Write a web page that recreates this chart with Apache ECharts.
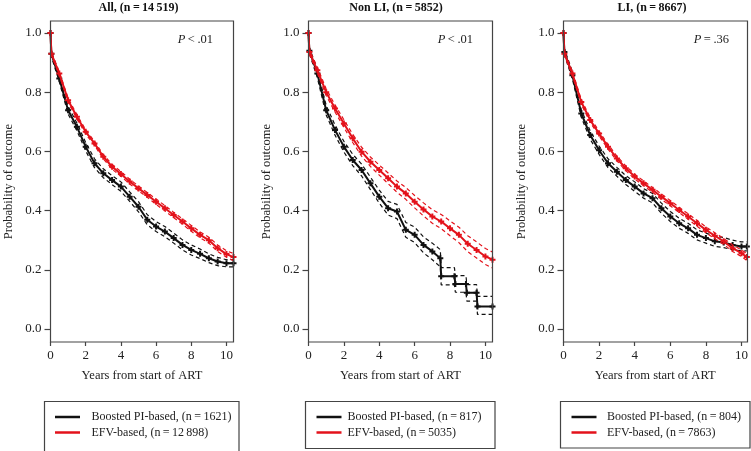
<!DOCTYPE html>
<html><head><meta charset="utf-8">
<script src="https://cdn.jsdelivr.net/npm/echarts@6/dist/echarts.min.js"></script>
<style>html,body{margin:0;padding:0;background:#fff}#c{width:751px;height:451px}</style>
</head><body><div id="c"></div>
<script>
// ---------- DATA ----------
const xTicks = [0, 2, 4, 6, 8, 10];
const yTicks = [0, 0.2, 0.4, 0.6, 0.8, 1.0];
const panelTitles = ['All, (n\u2009=\u200914\u2009519)', 'Non LI, (n\u2009=\u20095852)', 'LI, (n\u2009=\u20098667)'];
const pRel = ['<', '<', '='];
const pVal = ['.01', '.01', '.36'];
const blackNames = ['Boosted PI-based, (n\u2009=\u20091621)', 'Boosted PI-based, (n\u2009=\u2009817)', 'Boosted PI-based, (n\u2009=\u2009804)'];
const redNames = ['EFV-based, (n\u2009=\u200912\u2009898)', 'EFV-based, (n\u2009=\u20095035)', 'EFV-based, (n\u2009=\u20097863)'];

// Panel 1: All
const T1 = [0, 0.05, 0.5, 1, 1.5, 2, 2.5, 3, 3.5, 4, 4.5, 5, 5.5, 6, 6.5, 7, 7.5, 8, 8.5, 9, 9.5, 10, 10.4];
const red1   = [1.0, 0.93, 0.863, 0.773, 0.717, 0.666, 0.627, 0.582, 0.548, 0.524, 0.498, 0.475, 0.453, 0.43, 0.408, 0.385, 0.363, 0.34, 0.318, 0.30, 0.273, 0.253, 0.243];
const red1Hi = [1.0, 0.935, 0.869, 0.780, 0.724, 0.673, 0.634, 0.589, 0.556, 0.532, 0.506, 0.483, 0.461, 0.439, 0.417, 0.394, 0.372, 0.350, 0.328, 0.310, 0.284, 0.264, 0.255];
const red1Lo = [1.0, 0.925, 0.857, 0.766, 0.710, 0.659, 0.620, 0.575, 0.540, 0.516, 0.490, 0.467, 0.445, 0.421, 0.399, 0.376, 0.354, 0.330, 0.308, 0.290, 0.262, 0.242, 0.231];
const blk1   = [1.0, 0.93, 0.846, 0.739, 0.683, 0.616, 0.56, 0.526, 0.503, 0.481, 0.447, 0.413, 0.369, 0.346, 0.329, 0.307, 0.284, 0.267, 0.254, 0.239, 0.228, 0.222, 0.222];
const blk1Hi = [1.0, 0.94, 0.857, 0.752, 0.696, 0.630, 0.575, 0.541, 0.518, 0.497, 0.463, 0.430, 0.386, 0.363, 0.346, 0.324, 0.301, 0.284, 0.270, 0.254, 0.242, 0.234, 0.234];
const blk1Lo = [1.0, 0.92, 0.835, 0.726, 0.670, 0.602, 0.545, 0.511, 0.488, 0.465, 0.431, 0.396, 0.352, 0.329, 0.312, 0.290, 0.267, 0.250, 0.238, 0.224, 0.214, 0.210, 0.210];

// Panel 2: Non LI
const T2 = [0, 0.05, 0.5, 1, 1.5, 2, 2.5, 3, 3.5, 4, 4.5, 5, 5.5, 6, 6.5, 7, 7.5, 8, 8.5, 9, 9.5, 10, 10.4];
const red2   = [1.0, 0.936, 0.874, 0.80, 0.745, 0.694, 0.644, 0.599, 0.565, 0.537, 0.509, 0.481, 0.458, 0.43, 0.404, 0.38, 0.363, 0.34, 0.318, 0.288, 0.267, 0.245, 0.234];
const red2Hi = [1.0, 0.944, 0.884, 0.811, 0.757, 0.707, 0.658, 0.614, 0.581, 0.554, 0.527, 0.500, 0.478, 0.451, 0.426, 0.403, 0.387, 0.365, 0.344, 0.315, 0.294, 0.272, 0.260];
const red2Lo = [1.0, 0.928, 0.864, 0.789, 0.733, 0.681, 0.630, 0.584, 0.549, 0.520, 0.491, 0.462, 0.438, 0.409, 0.382, 0.357, 0.339, 0.315, 0.292, 0.261, 0.240, 0.218, 0.206];
const T2b = [0, 0.05, 0.5, 1, 1.5, 2, 2.5, 3, 3.5, 4, 4.5, 5, 5.5, 6, 6.5, 7, 7.45, 7.5, 8.25, 8.3, 8.9, 8.95, 9.5, 9.55, 10.4];
const blk2   = [1.0, 0.94, 0.863, 0.739, 0.672, 0.616, 0.571, 0.537, 0.492, 0.447, 0.408, 0.397, 0.335, 0.318, 0.284, 0.262, 0.239, 0.178, 0.178, 0.152, 0.152, 0.122, 0.122, 0.076, 0.076];
const blk2Hi = [1.0, 0.95, 0.877, 0.755, 0.689, 0.634, 0.590, 0.557, 0.513, 0.469, 0.431, 0.421, 0.360, 0.344, 0.311, 0.290, 0.268, 0.207, 0.207, 0.180, 0.180, 0.150, 0.150, 0.110, 0.110];
const blk2Lo = [1.0, 0.93, 0.849, 0.723, 0.655, 0.598, 0.552, 0.517, 0.471, 0.425, 0.385, 0.373, 0.310, 0.292, 0.257, 0.234, 0.210, 0.149, 0.149, 0.124, 0.124, 0.094, 0.094, 0.049, 0.049];

// Panel 3: LI
const T3 = [0, 0.05, 0.5, 1, 1.5, 2, 2.5, 3, 3.5, 4, 4.5, 5, 5.5, 6, 6.5, 7, 7.5, 8, 8.5, 9, 9.5, 10, 10.3];
const red3   = [1.0, 0.93, 0.863, 0.767, 0.706, 0.66, 0.616, 0.576, 0.543, 0.515, 0.492, 0.47, 0.447, 0.425, 0.402, 0.38, 0.357, 0.335, 0.315, 0.296, 0.273, 0.256, 0.243];
const red3Hi = [1.0, 0.936, 0.870, 0.775, 0.714, 0.668, 0.624, 0.584, 0.551, 0.523, 0.500, 0.478, 0.456, 0.434, 0.411, 0.389, 0.367, 0.345, 0.325, 0.306, 0.284, 0.267, 0.255];
const red3Lo = [1.0, 0.924, 0.856, 0.759, 0.698, 0.652, 0.608, 0.568, 0.535, 0.507, 0.484, 0.462, 0.438, 0.416, 0.393, 0.371, 0.347, 0.325, 0.305, 0.286, 0.262, 0.245, 0.231];
const blk3   = [1.0, 0.936, 0.857, 0.728, 0.655, 0.604, 0.56, 0.531, 0.503, 0.481, 0.458, 0.442, 0.408, 0.38, 0.357, 0.34, 0.318, 0.307, 0.296, 0.292, 0.284, 0.279, 0.279];
const blk3Hi = [1.0, 0.946, 0.869, 0.741, 0.669, 0.618, 0.575, 0.546, 0.518, 0.497, 0.474, 0.458, 0.425, 0.397, 0.374, 0.357, 0.335, 0.324, 0.313, 0.309, 0.300, 0.294, 0.294];
const blk3Lo = [1.0, 0.926, 0.845, 0.715, 0.641, 0.590, 0.545, 0.516, 0.488, 0.465, 0.442, 0.426, 0.391, 0.363, 0.340, 0.323, 0.301, 0.290, 0.279, 0.275, 0.268, 0.264, 0.264];

// ---------- LAYOUT / STYLE ----------
const FONT = '"Liberation Serif","DejaVu Serif",serif';
const RED = '#e3121b', BLACK = '#111111', TXT = '#222222', AX = '#444444';
const CROSS = 'path://M2,0H4V2H6V4H4V6H2V4H0V2H2Z';
const grids = [
  {left: 50.5, top: 21, width: 183, height: 321},
  {left: 308.5, top: 21, width: 184, height: 321},
  {left: 563.5, top: 21, width: 184, height: 321}
];
const yMin = -0.044, yMax = 1.0405;
const xMax = [10.4, 10.4, 10.3];
const titleX = [138.5, 396, 652];
const pRight = [213, 473, 729];
const legendBox = [
  {x: 44.5, y: 401.5, w: 194.5, h: 53},
  {x: 305.5, y: 401.5, w: 189.5, h: 47},
  {x: 560.5, y: 401.5, w: 189.5, h: 46.5}
];
const legendLineX = [55, 316.5, 571.5];
const legendTextX = [91.5, 347.5, 607];

const panels = [
  {bt: T1, b: blk1, bh: blk1Hi, bl: blk1Lo, rt: T1, r: red1, rh: red1Hi, rl: red1Lo},
  {bt: T2b, b: blk2, bh: blk2Hi, bl: blk2Lo, rt: T2, r: red2, rh: red2Hi, rl: red2Lo},
  {bt: T3, b: blk3, bh: blk3Hi, bl: blk3Lo, rt: T3, r: red3, rh: red3Hi, rl: red3Lo}
];
const pairs = (t, v) => t.map((x, i) => [x, v[i]]);

const xAxis = [], yAxis = [], series = [], graphic = [];
panels.forEach((p, i) => {
  xAxis.push({
    type: 'value', gridIndex: i, min: 0, max: xMax[i], position: 'bottom',
    axisLine: {show: false, onZero: false},
    axisTick: {show: true, length: 4, customValues: xTicks, lineStyle: {color: AX, width: 1.2}},
    axisLabel: {customValues: xTicks, margin: 7, color: TXT, fontFamily: FONT, fontSize: 13},
    splitLine: {show: false},
    name: 'Years from start of ART', nameLocation: 'middle', nameGap: 27,
    nameTextStyle: {color: TXT, fontFamily: FONT, fontSize: 12.5}
  });
  yAxis.push({
    type: 'value', gridIndex: i, min: yMin, max: yMax, position: 'left',
    axisLine: {show: false, onZero: false},
    axisTick: {show: true, length: 6, customValues: yTicks, lineStyle: {color: AX, width: 1.2}},
    axisLabel: {customValues: yTicks, margin: 9, color: TXT, fontFamily: FONT, fontSize: 13,
      formatter: v => v.toFixed(1)},
    splitLine: {show: false},
    name: 'Probability of outcome', nameLocation: 'middle', nameGap: 35,
    nameTextStyle: {color: TXT, fontFamily: FONT, fontSize: 12.5}
  });
  const mk = (name, t, v, color, dashed, est) => ({
    type: 'line', name, xAxisIndex: i, yAxisIndex: i, data: pairs(t, v),
    showSymbol: !!est, showAllSymbol: true, symbol: est ? CROSS : 'none', symbolSize: 6,
    itemStyle: {color}, silent: true,
    lineStyle: {color, width: est ? 2 : 1.2, type: dashed ? [4, 3] : 'solid'},
    z: color === RED ? 3 : 2
  });
  series.push(mk(blackNames[i], p.bt, p.b, BLACK, false, true));
  series.push(mk(blackNames[i] + ' upper', p.bt, p.bh, BLACK, true, false));
  series.push(mk(blackNames[i] + ' lower', p.bt, p.bl, BLACK, true, false));
  series.push(mk(redNames[i], p.rt, p.r, RED, false, true));
  series.push(mk(redNames[i] + ' upper', p.rt, p.rh, RED, true, false));
  series.push(mk(redNames[i] + ' lower', p.rt, p.rl, RED, true, false));

  const g = grids[i];
  graphic.push({type: 'rect', shape: {x: g.left, y: g.top, width: g.width, height: g.height},
    style: {fill: 'none', stroke: AX, lineWidth: 1.2}, z: 10, silent: true});
  graphic.push({type: 'text', x: titleX[i], y: 8, z: 10,
    style: {text: panelTitles[i], fill: '#111', font: 'bold 12px ' + FONT, align: 'center', verticalAlign: 'middle'}});
  graphic.push({type: 'text', x: pRight[i], y: 40, z: 10,
    style: {text: '{i|P}\u2009' + pRel[i] + '\u2009' + pVal[i], fill: TXT, font: '12.5px ' + FONT,
      align: 'right', verticalAlign: 'middle',
      rich: {i: {fontStyle: 'italic', fontFamily: FONT, fontSize: 12.5, fill: TXT}}}});
  const lb = legendBox[i];
  graphic.push({type: 'rect', shape: {x: lb.x, y: lb.y, width: lb.w, height: lb.h},
    style: {fill: 'none', stroke: AX, lineWidth: 1.2}, z: 10, silent: true});
  graphic.push({type: 'line', shape: {x1: legendLineX[i], y1: 417, x2: legendLineX[i] + 25, y2: 417},
    style: {stroke: BLACK, lineWidth: 2.5}, z: 10});
  graphic.push({type: 'line', shape: {x1: legendLineX[i], y1: 432.5, x2: legendLineX[i] + 25, y2: 432.5},
    style: {stroke: RED, lineWidth: 2.5}, z: 10});
  graphic.push({type: 'text', x: legendTextX[i], y: 417, z: 10,
    style: {text: blackNames[i], fill: TXT, font: '12px ' + FONT, verticalAlign: 'middle'}});
  graphic.push({type: 'text', x: legendTextX[i], y: 432.5, z: 10,
    style: {text: redNames[i], fill: TXT, font: '12px ' + FONT, verticalAlign: 'middle'}});
});

const chart = echarts.init(document.getElementById('c'), null, {renderer: 'canvas'});
chart.setOption({
  animation: false,
  backgroundColor: '#fff',
  grid: grids,
  xAxis, yAxis, series, graphic
});
</script></body></html>
